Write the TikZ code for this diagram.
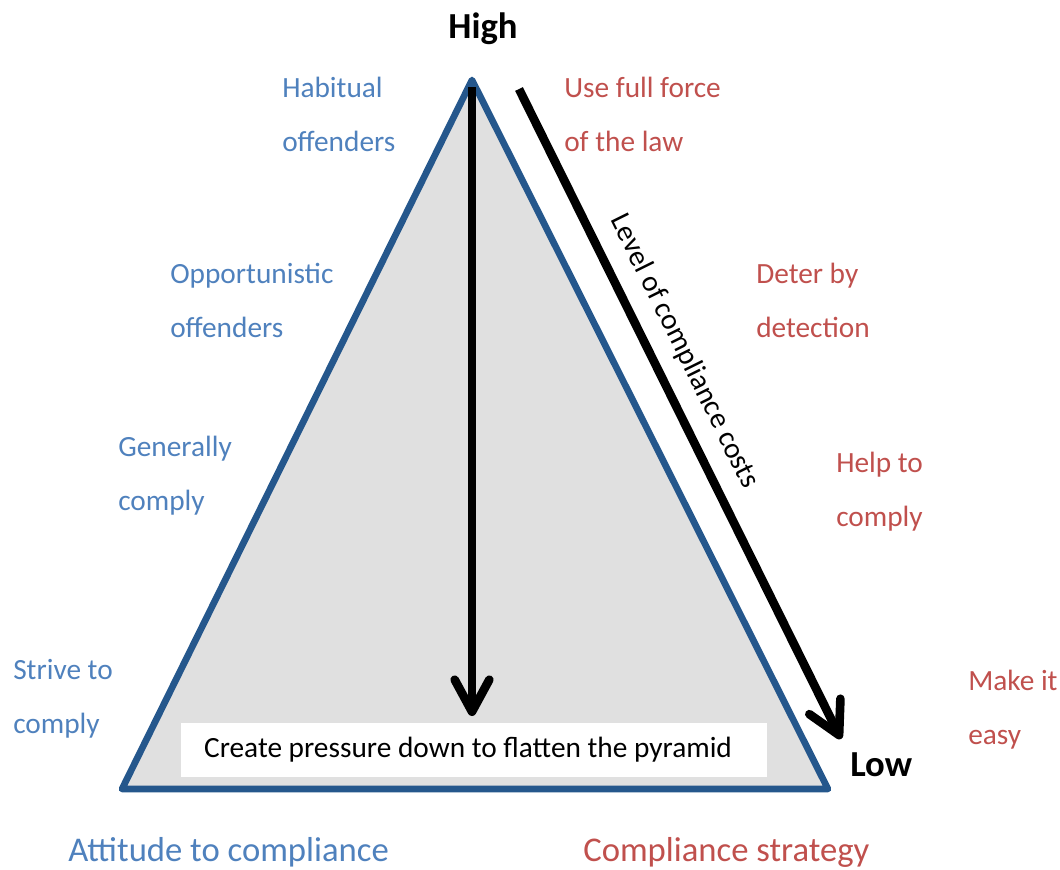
\documentclass[tikz,border=0pt]{standalone}
\usepackage{fontspec}
\setmainfont{Carlito}
\usetikzlibrary{arrows.meta,positioning}
\definecolor{attblue}{RGB}{79,129,189}
\definecolor{strred}{RGB}{192,80,77}
\definecolor{pyrblue}{RGB}{37,87,140}
\definecolor{pyrgray}{RGB}{224,224,224}

\begin{document}
\begin{tikzpicture}[x=0.75pt,y=-0.75pt,
		lab/.style={anchor=base west,inner sep=0pt,align=left,font=\fontsize{22}{40.5}\selectfont},
		att/.style={lab,text=attblue},
		strat/.style={lab,text=strred},
		level/.style={inner sep=0pt,font=\fontsize{27.5}{30}\selectfont\bfseries},
		heading/.style={anchor=base west,inner sep=0pt,font=\fontsize{26}{30}\selectfont},
		pyramid/.style={draw=pyrblue,fill=pyrgray,line width=5pt,line join=round},
		msgbox/.style={fill=white,inner sep=0pt,minimum width=439.5pt,minimum height=40.5pt,font=\fontsize{22}{26}\selectfont},
		push/.style={line width=6.5pt,-{Straight Barb[length=24pt,width=26pt,round]}}]
		\useasboundingbox (0,0) rectangle (1060,869);
		
		\coordinate (apex)  at (472,80);
		\coordinate (left)  at (122,789);
		\coordinate (right) at (828,789);
		\draw[pyramid] (apex) -- (left) -- (right) -- cycle;
		
		\node[msgbox] (msg) at (474,750) {Create pressure down to flatten the pyramid\kern9pt\relax};
		
		\coordinate (vtop) at (472,87);
		\coordinate (vend) at (472,716);
		\coordinate (dtop) at (519,89);
		\coordinate (dend) at (841,739);
		\draw[push] (vtop) -- (vend);
		\draw[push] (dtop) -- node[sloped,above,pos=0.425,inner sep=11pt,font=\fontsize{22}{26}\selectfont] {Level of compliance costs} (dend);
		
		\node[level,anchor=base]      (high) at (483,38)  {High};
		\node[level,anchor=base west] (low)  at (850,776) {Low};
		
		% two-line labels: base anchor sits on the second line
		\node[att] (habitual) at (282,151) {Habitual\\offenders};
		\node[att] (opport)   at (170,337) {Opportunistic\\offenders};
		\node[att] (general)  at (118,510) {Generally\\comply};
		\node[att] (strive)   at (13,733)  {Strive to\\comply};
		
		\node[strat] (force)  at (564,151) {Use full force\\of the law};
		\node[strat] (deter)  at (756,337) {Deter by\\detection};
		\node[strat] (help)   at (836,526) {Help to\\comply};
		\node[strat] (easy)   at (968,744) {Make it\\easy};
		
		\node[heading,text=attblue] (attitude) at (68,861)  {Attitude to compliance};
		\node[heading,text=strred]  (strategy) at (583,861) {Compliance strategy};
\end{tikzpicture}
\end{document}
